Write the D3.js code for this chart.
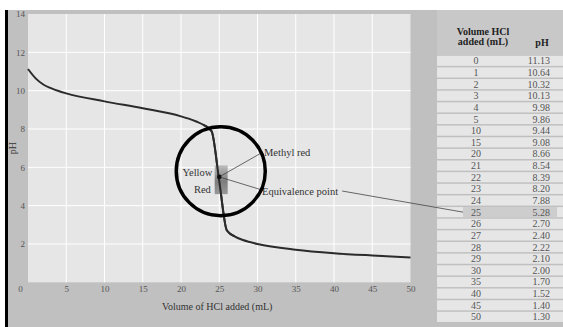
<!DOCTYPE html>
<html>
<head>
<meta charset="utf-8">
<script src="https://cdn.jsdelivr.net/npm/d3@7"></script>
<style>
  body { margin: 0; background: #fff; }
  svg { display: block; font-family: "Liberation Serif", "Times New Roman", serif; }
</style>
</head>
<body>
<svg id="chart" width="563" height="327"></svg>
<script>
// titration data (also shown in the table)
const volumes = [0, 1, 2, 3, 4, 5, 10, 15, 20, 21, 22, 23, 24, 25, 26, 27, 28, 29, 30, 35, 40, 45, 50];
const phValues = [11.13, 10.64, 10.32, 10.13, 9.98, 9.86, 9.44, 9.08, 8.66, 8.54, 8.39, 8.20, 7.88, 5.28, 2.70, 2.40, 2.22, 2.10, 2.00, 1.70, 1.52, 1.40, 1.30];
const phLabels = ["11.13", "10.64", "10.32", "10.13", "9.98", "9.86", "9.44", "9.08", "8.66", "8.54", "8.39", "8.20", "7.88", "5.28", "2.70", "2.40", "2.22", "2.10", "2.00", "1.70", "1.52", "1.40", "1.30"];
const xTicks = [0, 5, 10, 15, 20, 25, 30, 35, 40, 45, 50];
const yTicks = [2, 4, 6, 8, 10, 12, 14];
const equivVolume = 25;
const indicatorRange = [4.6, 6.1]; // methyl red colour change

const svg = d3.select("#chart");

// page background
svg.append("rect").attr("x", 8).attr("y", 10).attr("width", 555).attr("height", 317).attr("fill", "#c0c0c0");
svg.append("rect").attr("x", 5).attr("y", 10).attr("width", 3).attr("height", 317).attr("fill", "#000");

const x = d3.scaleLinear().domain([0, 50]).range([28, 410.5]);
const y = d3.scaleLinear().domain([0, 14]).range([282.3, 14]);

// plot area
svg.append("rect")
    .attr("x", x(0)).attr("y", y(14))
    .attr("width", x(50) - x(0)).attr("height", y(0) - y(14))
    .attr("fill", "#e6e6e6");

// grid
const grid = svg.append("g").attr("stroke", "#fff").attr("stroke-width", 1);
grid.selectAll(".gx").data(xTicks.slice(1, -1)).enter().append("line")
    .attr("x1", d => x(d)).attr("x2", d => x(d))
    .attr("y1", y(14)).attr("y2", y(0));
grid.selectAll(".gy").data(yTicks.slice(0, -1)).enter().append("line")
    .attr("x1", x(0)).attr("x2", x(50))
    .attr("y1", d => y(d)).attr("y2", d => y(d));

// axes (labels only)
const xAxis = svg.append("g")
    .attr("transform", "translate(0," + y(0) + ")")
    .call(d3.axisBottom(x).tickValues(xTicks).tickSize(0).tickPadding(3));
xAxis.selectAll("text").filter(d => d === 0).attr("dx", -8);

const yAxis = svg.append("g")
    .attr("transform", "translate(" + x(0) + ",0)")
    .call(d3.axisLeft(y).tickValues(yTicks).tickSize(0).tickPadding(3));

svg.selectAll(".domain").remove();
svg.selectAll(".tick text")
    .attr("font-family", "Liberation Serif")
    .attr("font-size", 9)
    .attr("fill", "#555");

svg.append("text")
    .attr("x", (x(0) + x(50)) / 2 - 2).attr("y", 310)
    .attr("text-anchor", "middle")
    .attr("font-size", 10).attr("fill", "#333")
    .text("Volume of HCl added (mL)");

svg.append("text")
    .attr("transform", "translate(16," + y(7) + ") rotate(-90)")
    .attr("text-anchor", "middle")
    .attr("font-size", 10).attr("fill", "#333")
    .text("pH");

// titration curve
const points = volumes.map((v, i) => [v, phValues[i]]);
const line = d3.line()
    .x(d => x(d[0]))
    .y(d => y(d[1]))
    .curve(d3.curveMonotoneX);

svg.append("path")
    .datum(points)
    .attr("d", line)
    .attr("fill", "none")
    .attr("stroke", "#2b2b2b")
    .attr("stroke-width", 2);

// indicator box
const defs = svg.append("defs");
const grad = defs.append("linearGradient").attr("id", "ind").attr("x1", 0).attr("x2", 0).attr("y1", 0).attr("y2", 1);
grad.append("stop").attr("offset", "0%").attr("stop-color", "#b4b4b4");
grad.append("stop").attr("offset", "55%").attr("stop-color", "#6a6a6a");
grad.append("stop").attr("offset", "100%").attr("stop-color", "#8a8a8a");

svg.append("rect")
    .attr("x", x(24.4)).attr("y", y(indicatorRange[1]))
    .attr("width", x(26.1) - x(24.4))
    .attr("height", y(indicatorRange[0]) - y(indicatorRange[1]))
    .attr("fill", "url(#ind)")
    .attr("opacity", 0.85);

// redraw curve segment over indicator box
svg.append("path")
    .datum(points.slice(11, 16))
    .attr("d", line)
    .attr("fill", "none")
    .attr("stroke", "#2b2b2b")
    .attr("stroke-width", 2);

const eqIdx = volumes.indexOf(equivVolume);
const dotX = x(equivVolume), dotY = y(5.5);

svg.append("text").attr("x", x(24.1)).attr("y", y(5.75)).attr("dy", "0.35em")
    .attr("text-anchor", "end").attr("font-size", 10.5).attr("fill", "#333").text("Yellow");
svg.append("text").attr("x", x(23.9)).attr("y", y(4.85)).attr("dy", "0.35em")
    .attr("text-anchor", "end").attr("font-size", 10.5).attr("fill", "#333").text("Red");

// callouts
const ann = svg.append("g").attr("stroke", "#444").attr("stroke-width", 0.8);
ann.append("line").attr("x1", dotX).attr("y1", dotY).attr("x2", 263).attr("y2", 152);
ann.append("line").attr("x1", dotX).attr("y1", dotY).attr("x2", 262).attr("y2", 190);

svg.append("text").attr("x", 264).attr("y", 152).attr("dy", "0.35em")
    .attr("font-size", 10.5).attr("fill", "#333").text("Methyl red");
const eqText = svg.append("text").attr("x", 262).attr("y", 191).attr("dy", "0.35em")
    .attr("font-size", 10.5).attr("fill", "#333").text("Equivalence point");

svg.append("circle").attr("cx", dotX).attr("cy", dotY).attr("r", 2.3).attr("fill", "#111");

// magnifier circle
svg.append("circle")
    .attr("cx", x(25.2)).attr("cy", y(5.8)).attr("r", 44.5)
    .attr("fill", "none").attr("stroke", "#000").attr("stroke-width", 3.5);

// table
const tableX = 437, rowTop = 55, rowH = 11.64;
svg.append("rect").attr("x", tableX).attr("y", 10).attr("width", 563 - tableX).attr("height", rowTop - 10)
    .attr("fill", "#c8c8c8");

const rows = svg.append("g").selectAll("g").data(volumes).enter().append("g")
    .attr("transform", (d, i) => "translate(0," + (rowTop + i * rowH) + ")");
rows.append("rect")
    .attr("x", tableX).attr("y", 0.75)
    .attr("width", 563 - tableX).attr("height", rowH - 1.5)
    .attr("fill", "#e6e6e6");
rows.filter((d, i) => i === eqIdx).append("rect")
    .attr("x", 463).attr("y", 0.75).attr("width", 94).attr("height", rowH - 1.5)
    .attr("fill", "#cdcdcd");
rows.append("text")
    .attr("x", 476).attr("y", rowH / 2).attr("dy", "0.35em")
    .attr("text-anchor", "middle").attr("font-size", 10).attr("fill", "#555")
    .text(d => d);
rows.append("text")
    .attr("x", 550).attr("y", rowH / 2).attr("dy", "0.35em")
    .attr("text-anchor", "end").attr("font-size", 10).attr("fill", "#555")
    .text((d, i) => phLabels[i]);

const head = svg.append("g").attr("font-size", 10).attr("font-weight", "bold").attr("fill", "#222");
head.append("text").attr("x", 483).attr("y", 35).attr("text-anchor", "middle").text("Volume HCl");
head.append("text").attr("x", 483).attr("y", 45).attr("text-anchor", "middle").text("added (mL)");
head.append("text").attr("x", 542).attr("y", 46).attr("text-anchor", "middle").text("pH");

// line from label to the equivalence row
const eqEnd = 262 + eqText.node().getComputedTextLength() + 4;
svg.append("line")
    .attr("x1", eqEnd).attr("y1", 191)
    .attr("x2", 463).attr("y2", rowTop + eqIdx * rowH + rowH / 2)
    .attr("stroke", "#444").attr("stroke-width", 0.8);
</script>
</body>
</html>
